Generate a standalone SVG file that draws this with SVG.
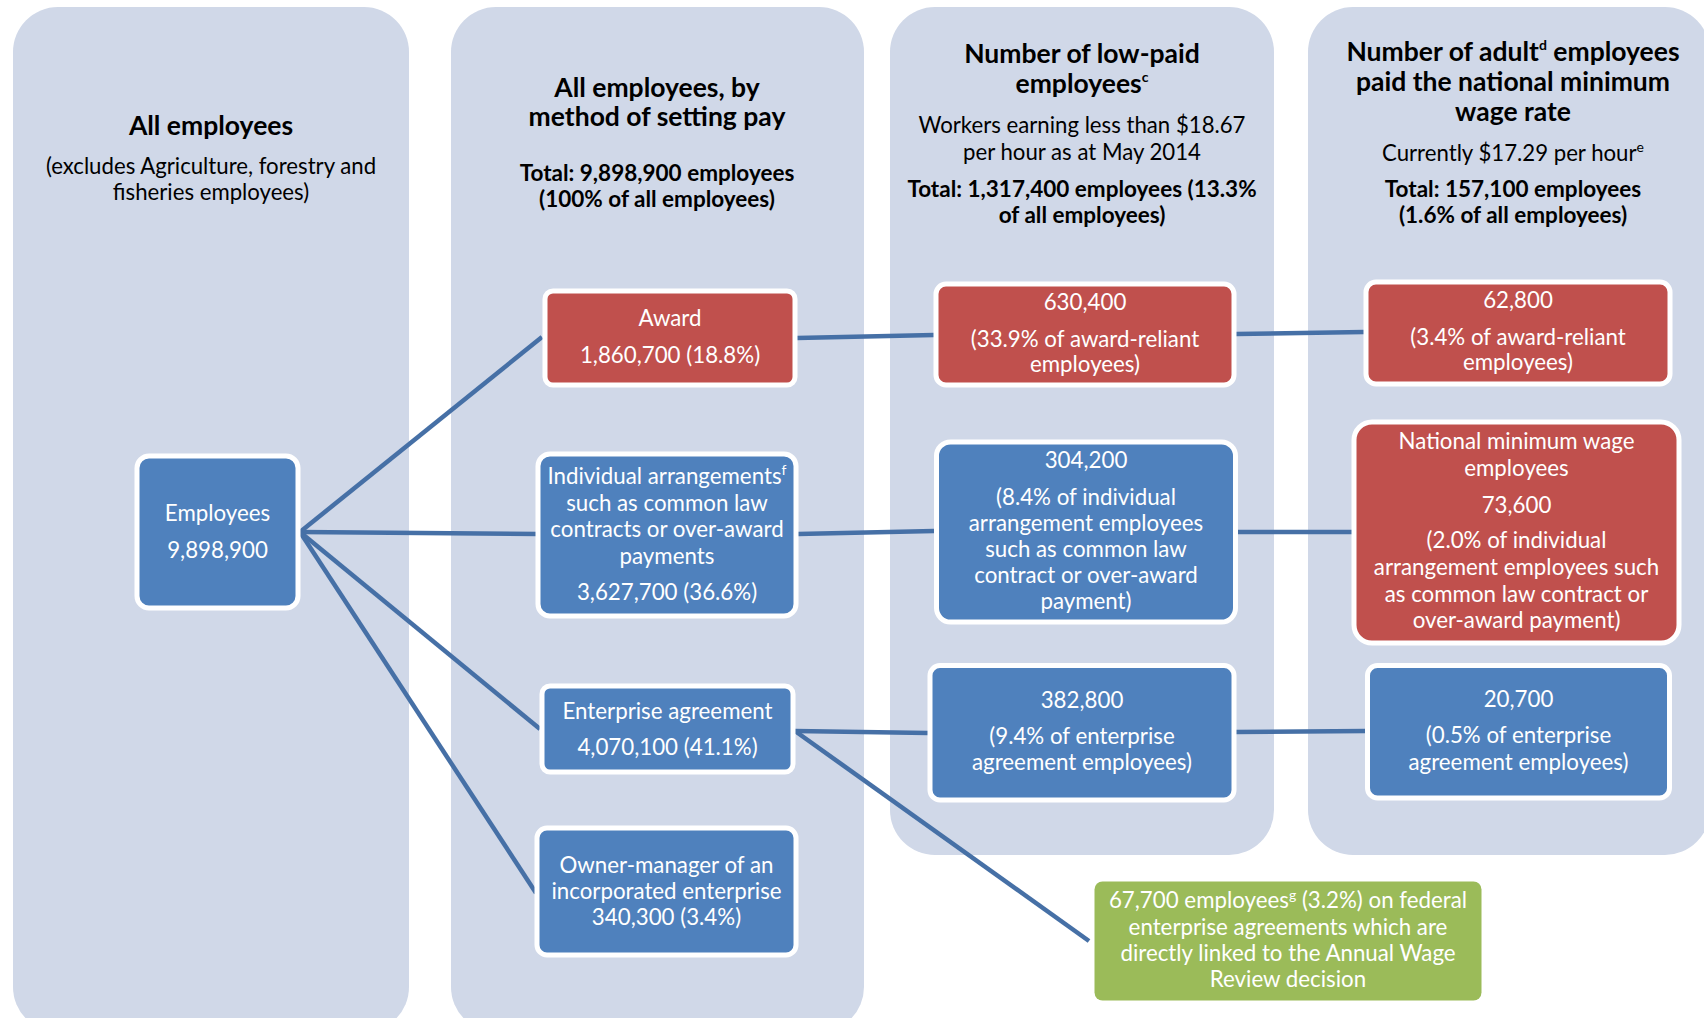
<svg xmlns="http://www.w3.org/2000/svg" width="1704" height="1018" viewBox="0 0 1704 1018">
<style>
.panel{fill:#D0D8E8}
.box{stroke:#fff;stroke-width:5}
.blue{fill:#4F81BD}
.red{fill:#C0504D}
.green{fill:#9BBB59}
.h{font-family:Lato,"Liberation Sans",sans-serif;font-weight:bold;font-size:26.5px;fill:#000;text-anchor:middle}
.s{font-family:Lato,"Liberation Sans",sans-serif;font-size:22.2px;fill:#000;text-anchor:middle}
.sb{font-family:Lato,"Liberation Sans",sans-serif;font-weight:bold;font-size:22.5px;fill:#000;text-anchor:middle}
.t{font-family:Lato,"Liberation Sans",sans-serif;font-size:22.3px;fill:#fff;text-anchor:middle}
.sup{font-size:14px}
.conn line{stroke:#4670A6;stroke-width:4.5;fill:none}
</style>
<rect width="1704" height="1018" fill="#fff"/>
<g id="panels">
<rect class="panel" x="13" y="7" width="396" height="1025" rx="45"/>
<rect class="panel" x="451" y="7" width="413" height="1025" rx="45"/>
<rect class="panel" x="890" y="7" width="384" height="848" rx="45"/>
<rect class="panel" x="1308" y="7" width="402" height="848" rx="45"/>
</g>
<g id="headers">
<text class="h" x="211" y="135">All employees</text>
<text class="s" x="211" y="174">(excludes Agriculture, forestry and</text>
<text class="s" x="211" y="200">fisheries employees)</text>
<text class="h" x="657" y="97">All employees, by</text>
<text class="h" x="657" y="126">method of setting pay</text>
<text class="sb" x="657" y="181">Total: 9,898,900 employees</text>
<text class="sb" x="657" y="207">(100% of all employees)</text>
<text class="h" x="1082" y="63">Number of low-paid</text>
<text class="h" x="1082" y="93">employees<tspan class="sup" dy="-11">c</tspan></text>
<text class="s" x="1082" y="133">Workers earning less than $18.67</text>
<text class="s" x="1082" y="160">per hour as at May 2014</text>
<text class="sb" x="1082" y="197">Total: 1,317,400 employees (13.3%</text>
<text class="sb" x="1082" y="223">of all employees)</text>
<text class="h" x="1513" y="61">Number of adult<tspan class="sup" dy="-11">d</tspan><tspan dy="11"> employees</tspan></text>
<text class="h" x="1513" y="91">paid the national minimum</text>
<text class="h" x="1513" y="121">wage rate</text>
<text class="s" x="1513" y="161">Currently $17.29 per hour<tspan class="sup" dy="-9">e</tspan></text>
<text class="sb" x="1513" y="197">Total: 157,100 employees</text>
<text class="sb" x="1513" y="223">(1.6% of all employees)</text>
</g>
<g id="connectors" class="conn">
<line x1="300" y1="532" x2="542" y2="337"/>
<line x1="300" y1="532" x2="538" y2="534"/>
<line x1="300" y1="532" x2="540" y2="729"/>
<line x1="300" y1="532" x2="536" y2="893"/>
<line x1="797" y1="338" x2="934" y2="335"/>
<line x1="1236" y1="334" x2="1364" y2="332"/>
<line x1="798" y1="534" x2="934" y2="531"/>
<line x1="1237" y1="532" x2="1352" y2="532"/>
<line x1="795" y1="731" x2="928" y2="733"/>
<line x1="1235" y1="732" x2="1366" y2="731"/>
<line x1="795" y1="731" x2="1089" y2="941"/>
</g>
<g id="n-employees">
<rect class="box blue" x="137" y="456" width="161" height="152" rx="12"/>
<text class="t" x="217.5" y="521">Employees</text>
<text class="t" x="217.5" y="558">9,898,900</text>
</g>
<g id="n-award">
<rect class="box red" x="545" y="291" width="250" height="94" rx="8"/>
<text class="t" x="670" y="326">Award</text>
<text class="t" x="670" y="363">1,860,700 (18.8%)</text>
</g>
<g id="n-individual">
<rect class="box blue" x="538" y="454" width="258" height="162" rx="12"/>
<text class="t" x="667" y="484">Individual arrangements<tspan class="sup" dy="-9">f</tspan></text>
<text class="t" x="667" y="511">such as common law</text>
<text class="t" x="667" y="537">contracts or over-award</text>
<text class="t" x="667" y="564">payments</text>
<text class="t" x="667" y="600">3,627,700 (36.6%)</text>
</g>
<g id="n-enterprise">
<rect class="box blue" x="542" y="686" width="251" height="86" rx="8"/>
<text class="t" x="667.5" y="719">Enterprise agreement</text>
<text class="t" x="667.5" y="755">4,070,100 (41.1%)</text>
</g>
<g id="n-owner">
<rect class="box blue" x="537" y="828" width="259" height="127" rx="10"/>
<text class="t" x="666.5" y="873">Owner-manager of an</text>
<text class="t" x="666.5" y="899">incorporated enterprise</text>
<text class="t" x="666.5" y="925">340,300 (3.4%)</text>
</g>
<g id="n-lowpaid-award">
<rect class="box red" x="936" y="284" width="298" height="101" rx="10"/>
<text class="t" x="1085" y="310">630,400</text>
<text class="t" x="1085" y="347">(33.9% of award-reliant</text>
<text class="t" x="1085" y="372">employees)</text>
</g>
<g id="n-lowpaid-individual">
<rect class="box blue" x="936.5" y="442" width="299" height="180" rx="14"/>
<text class="t" x="1086" y="468">304,200</text>
<text class="t" x="1086" y="505">(8.4% of individual</text>
<text class="t" x="1086" y="531">arrangement employees</text>
<text class="t" x="1086" y="557">such as common law</text>
<text class="t" x="1086" y="583">contract or over-award</text>
<text class="t" x="1086" y="609">payment)</text>
</g>
<g id="n-lowpaid-enterprise">
<rect class="box blue" x="930" y="665.5" width="304" height="134.5" rx="10"/>
<text class="t" x="1082" y="708">382,800</text>
<text class="t" x="1082" y="744">(9.4% of enterprise</text>
<text class="t" x="1082" y="770">agreement employees)</text>
</g>
<g id="n-nmw-award">
<rect class="box red" x="1366" y="282" width="304" height="102" rx="10"/>
<text class="t" x="1518" y="308">62,800</text>
<text class="t" x="1518" y="345">(3.4% of award-reliant</text>
<text class="t" x="1518" y="370">employees)</text>
</g>
<g id="n-nmw-individual">
<rect class="box red" x="1354" y="422" width="325" height="221" rx="18"/>
<text class="t" x="1516.5" y="449">National minimum wage</text>
<text class="t" x="1516.5" y="476">employees</text>
<text class="t" x="1516.5" y="513">73,600</text>
<text class="t" x="1516.5" y="548">(2.0% of individual</text>
<text class="t" x="1516.5" y="575">arrangement employees such</text>
<text class="t" x="1516.5" y="602">as common law contract or</text>
<text class="t" x="1516.5" y="628">over-award payment)</text>
</g>
<g id="n-nmw-enterprise">
<rect class="box blue" x="1367.5" y="665.5" width="302" height="132.5" rx="10"/>
<text class="t" x="1518.5" y="707">20,700</text>
<text class="t" x="1518.5" y="743">(0.5% of enterprise</text>
<text class="t" x="1518.5" y="770">agreement employees)</text>
</g>
<g id="n-federal">
<rect class="green" x="1094.5" y="881.5" width="387" height="119" rx="8"/>
<text class="t" x="1288" y="908">67,700 employees<tspan class="sup" dy="-8">g</tspan><tspan dy="8"> (3.2%) on federal</tspan></text>
<text class="t" x="1288" y="935">enterprise agreements which are</text>
<text class="t" x="1288" y="961">directly linked to the Annual Wage</text>
<text class="t" x="1288" y="987">Review decision</text>
</g>
</svg>
